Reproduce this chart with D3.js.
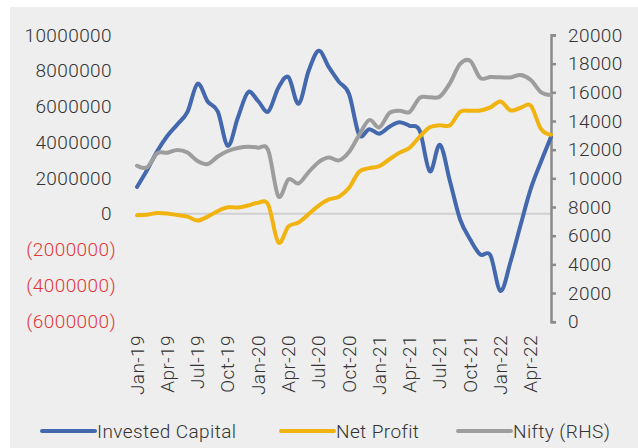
<!DOCTYPE html>
<html>
<head>
<meta charset="utf-8">
<script src="https://cdn.jsdelivr.net/npm/d3@7"></script>
<style>
  html, body { margin: 0; padding: 0; background: #ffffff; }
  svg text { font-family: Roboto, "Open Sans", sans-serif; font-weight: 300; letter-spacing: 0.4px; }
</style>
</head>
<body>
<div id="chart"></div>
<script>
// categories (monthly)
const months = [
  'Jan-19','Feb-19','Mar-19','Apr-19','May-19','Jun-19','Jul-19','Aug-19','Sep-19','Oct-19','Nov-19','Dec-19',
  'Jan-20','Feb-20','Mar-20','Apr-20','May-20','Jun-20','Jul-20','Aug-20','Sep-20','Oct-20','Nov-20','Dec-20',
  'Jan-21','Feb-21','Mar-21','Apr-21','May-21','Jun-21','Jul-21','Aug-21','Sep-21','Oct-21','Nov-21','Dec-21',
  'Jan-22','Feb-22','Mar-22','Apr-22','May-22','Jun-22'
];
const xTickLabels = ['Jan-19','Apr-19','Jul-19','Oct-19','Jan-20','Apr-20','Jul-20','Oct-20',
  'Jan-21','Apr-21','Jul-21','Oct-21','Jan-22','Apr-22'];

// series values
const investedCapital = [
  1500000, 2450000, 3500000, 4350000, 5000000, 5700000, 7270000, 6280000, 5720000, 3800000, 5400000, 6800000,
  6300000, 5720000, 7050000, 7640000, 6150000, 8000000, 9120000, 8200000, 7380000, 6700000, 4420000, 4730000,
  4480000, 4870000, 5120000, 4920000, 4640000, 2370000, 3860000, 1800000, -320000, -1440000, -2280000, -2330000,
  -4320000, -2670000, -600000, 1400000, 2900000, 4300000
];
const netProfit = [
  -80000, -50000, 40000, 10000, -70000, -160000, -380000, -160000, 150000, 360000, 350000, 460000,
  620000, 500000, -1600000, -710000, -490000, -20000, 460000, 800000, 950000, 1450000, 2350000, 2550000,
  2660000, 3050000, 3420000, 3690000, 4310000, 4840000, 4950000, 4950000, 5700000, 5760000, 5780000, 5950000,
  6280000, 5780000, 5930000, 6050000, 4750000, 4420000
];
const nifty = [
  10880, 10770, 11750, 11790, 11980, 11800, 11210, 11000, 11525, 11910, 12120, 12210,
  12140, 11950, 8750, 9930, 9650, 10440, 11140, 11450, 11250, 11840, 13020, 14070,
  13560, 14560, 14720, 14630, 15620, 15650, 15710, 16650, 17980, 18190, 17000, 17070,
  17050, 17040, 17210, 16860, 16020, 15810
];

// axis ticks
const leftTicks = [10000000, 8000000, 6000000, 4000000, 2000000, 0, -2000000, -4000000, -6000000];
const rightTicks = [20000, 18000, 16000, 14000, 12000, 10000, 8000, 6000, 4000, 2000, 0];

const seriesNames = ['Invested Capital', 'Net Profit', 'Nifty (RHS)'];
const seriesColors = ['#4368ad', '#f0b30f', '#9d9d9d'];

const width = 638, height = 448;
const svg = d3.select('#chart').append('svg')
  .attr('width', width)
  .attr('height', height);

// chart background
svg.append('rect')
  .attr('x', 10).attr('y', 7)
  .attr('width', width - 10).attr('height', height - 7)
  .style('fill', '#eeeeee');

const x = d3.scalePoint().domain(months).range([137, 551]);
const yL = d3.scaleLinear().domain([-6000000, 10000000]).range([321, 35]);
const yR = d3.scaleLinear().domain([0, 20000]).range([321.7, 35]);

// zero line
svg.append('line')
  .attr('x1', x(months[0])).attr('x2', x(months[months.length - 1]))
  .attr('y1', yL(0)).attr('y2', yL(0))
  .style('stroke', '#d0d0d0')
  .style('stroke-width', 2);

// left axis labels (Excel style, negatives in red with parentheses)
const fmt = d3.format('d');
svg.append('g').selectAll('text')
  .data(leftTicks)
  .enter().append('text')
  .attr('x', d => d < 0 ? 116 : 112)
  .attr('y', d => yL(d))
  .attr('text-anchor', 'end')
  .attr('dominant-baseline', 'central')
  .style('font-size', '19px')
  .style('fill', d => d < 0 ? '#e2383a' : '#333333')
  .text(d => d < 0 ? '(' + fmt(-d) + ')' : fmt(d));

// right axis
const rightAxis = d3.axisRight(yR)
  .tickValues(rightTicks)
  .tickSize(5)
  .tickPadding(12)
  .tickFormat(fmt);
const gR = svg.append('g')
  .attr('transform', 'translate(' + 551 + ',0)')
  .call(rightAxis);
gR.select('.domain').style('stroke', '#8a8a8a').style('stroke-width', 2.5);
gR.selectAll('.tick line').style('stroke', '#8a8a8a').style('stroke-width', 2.5);
gR.selectAll('.tick text')
  .style('font-size', '19px')
  .style('font-family', 'Roboto, sans-serif')
  .style('font-weight', 300)
  .style('fill', '#333333');

// x labels (rotated)
svg.append('g').selectAll('text')
  .data(xTickLabels)
  .enter().append('text')
  .attr('transform', d => 'translate(' + x(d) + ',335) rotate(-90)')
  .attr('text-anchor', 'end')
  .attr('dominant-baseline', 'central')
  .style('font-size', '19px')
  .style('fill', '#333333')
  .text(d => d);

// lines
const lineL = d3.line()
  .x((d, i) => x(months[i]))
  .y(d => yL(d))
  .curve(d3.curveCardinal.tension(0));
const lineR = d3.line()
  .x((d, i) => x(months[i]))
  .y(d => yR(d))
  .curve(d3.curveCardinal.tension(0));

svg.append('path')
  .datum(investedCapital)
  .attr('d', lineL)
  .style('fill', 'none')
  .style('stroke', seriesColors[0])
  .style('stroke-width', 4)
  .style('stroke-linecap', 'round');
svg.append('path')
  .datum(netProfit)
  .attr('d', lineL)
  .style('fill', 'none')
  .style('stroke', seriesColors[1])
  .style('stroke-width', 4)
  .style('stroke-linecap', 'round');
svg.append('path')
  .datum(nifty)
  .attr('d', lineR)
  .style('fill', 'none')
  .style('stroke', seriesColors[2])
  .style('stroke-width', 4)
  .style('stroke-linecap', 'round');

// legend
const legendX = [42, 281, 458];
const legend = svg.append('g').selectAll('g')
  .data(seriesNames)
  .enter().append('g')
  .attr('transform', (d, i) => 'translate(' + legendX[i] + ',431)');
legend.append('line')
  .attr('x1', 0).attr('x2', 53)
  .attr('y1', 0).attr('y2', 0)
  .style('stroke', (d, i) => seriesColors[i])
  .style('stroke-width', 4)
  .style('stroke-linecap', 'round');
legend.append('text')
  .attr('x', 55)
  .attr('y', 0)
  .attr('dominant-baseline', 'central')
  .style('font-size', '19px')
  .style('fill', '#333333')
  .text(d => d);
</script>
</body>
</html>
